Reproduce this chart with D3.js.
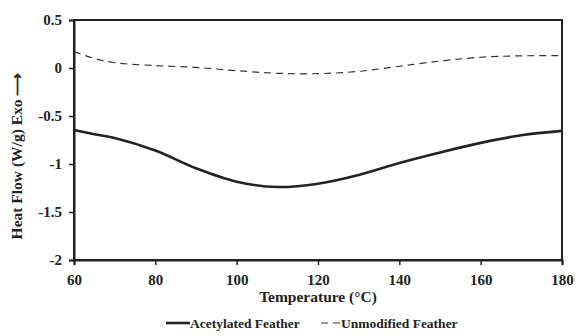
<!DOCTYPE html>
<html><head><meta charset="utf-8">
<script src="https://cdn.jsdelivr.net/npm/d3@7"></script>
<style>body{margin:0;background:#fff}svg{display:block}text{font-family:"Liberation Serif","Times New Roman",serif;font-weight:bold;fill:#222}</style>
</head><body>
<svg id="c" width="576" height="336"></svg>
<script>
const temps = [60,65,70,80,90,100,110,120,130,140,150,160,170,180];
const acetylated = [-0.646,-0.69,-0.73,-0.86,-1.045,-1.184,-1.24,-1.205,-1.115,-0.99,-0.88,-0.78,-0.70,-0.655];
const unmodified = [0.17,0.10,0.055,0.025,0.006,-0.028,-0.055,-0.059,-0.035,0.018,0.072,0.112,0.127,0.128];
const xTicks = [60,80,100,120,140,160,180];
const yTicks = [0.5,0,-0.5,-1,-1.5,-2];
const seriesNames = ["Acetylated Feather","Unmodified Feather"];

const svg = d3.select("#c");
const L=74, R=562, T=20, B=260;
const x = d3.scaleLinear().domain([60,180]).range([L,R]);
const y = d3.scaleLinear().domain([-2,0.5]).range([B,T]);

svg.append("rect").attr("x",L).attr("y",T).attr("width",R-L).attr("height",B-T)
  .attr("fill","none").attr("stroke","#222").attr("stroke-width",2);

const xa = svg.append("g").attr("transform",`translate(0,${B})`)
  .call(d3.axisBottom(x).tickValues(xTicks).tickSize(5).tickPadding(9).tickFormat(d3.format("d")));
const ya = svg.append("g").attr("transform",`translate(${L},0)`)
  .call(d3.axisLeft(y).tickValues(yTicks).tickSize(5).tickPadding(7).tickFormat(d=>d===0?"0":String(d)));
[xa,ya].forEach(a=>{
  a.select(".domain").attr("stroke","#222").attr("stroke-width",2);
  a.selectAll(".tick line").attr("stroke","#222").attr("stroke-width",1.5);
  a.selectAll("text").attr("font-size",15).attr("fill","#222").attr("font-family","Liberation Serif").attr("font-weight","bold");
});

const line = d3.line().x((d,i)=>x(temps[i])).y(d=>y(d)).curve(d3.curveCatmullRom.alpha(0.5));
svg.append("path").attr("d",line(unmodified)).attr("fill","none").attr("stroke","#333")
  .attr("stroke-width",1.2).attr("stroke-dasharray","7,5");
svg.append("path").attr("d",line(acetylated)).attr("fill","none").attr("stroke","#222")
  .attr("stroke-width",2.6);

svg.append("text").attr("x",318).attr("y",302).attr("text-anchor","middle")
  .attr("font-size",15.5).text("Temperature (°C)");
svg.append("text").attr("transform",`translate(22,${156}) rotate(-90)`).attr("text-anchor","middle")
  .attr("font-size",15.5).text("Heat Flow (W/g) Exo ⟶");

const lg = svg.append("g");
lg.append("line").attr("x1",166).attr("x2",190).attr("y1",323).attr("y2",323).attr("stroke","#222").attr("stroke-width",2.6);
lg.append("text").attr("x",190).attr("y",327.5).attr("font-size",13.5).text(seriesNames[0]);
lg.append("line").attr("x1",321).attr("x2",341).attr("y1",323).attr("y2",323).attr("stroke","#333").attr("stroke-width",1.2).attr("stroke-dasharray","7,5");
lg.append("text").attr("x",341).attr("y",327.5).attr("font-size",13.5).text(seriesNames[1]);
</script>
</body></html>
